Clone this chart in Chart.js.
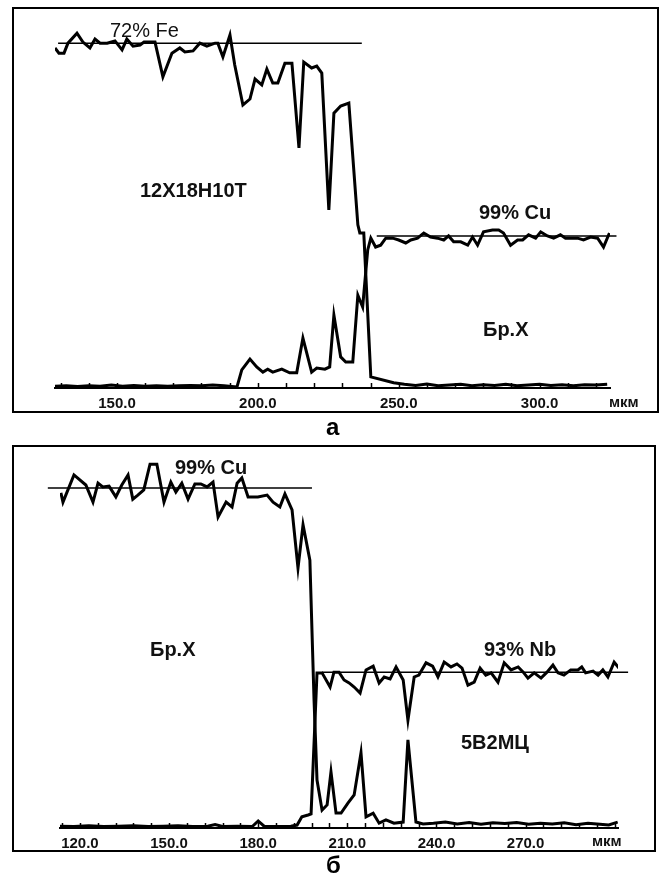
<!DOCTYPE html>
<html>
<head>
<meta charset="utf-8">
<script src="https://cdn.jsdelivr.net/npm/chart.js@4.4.1/dist/chart.umd.min.js"></script>
<style>
  body { margin:0; background:#fff; width:662px; height:879px; position:relative; overflow:hidden;
         font-family:"Liberation Sans", Arial, sans-serif; }
  .panel { position:absolute; border:2px solid #000; box-sizing:border-box; }
  .wrap { position:absolute; left:0; width:662px; }
  .lbl { position:absolute; font-size:20px; font-weight:bold; line-height:20px; white-space:nowrap; color:#111; }
  .unit { position:absolute; font-size:15px; font-weight:bold; line-height:15px; color:#111; }
  .cap { position:absolute; font-size:24px; font-weight:bold; line-height:24px; color:#000; }
</style>
</head>
<body>

<div class="panel" style="left:12px;top:7px;width:647px;height:406px"></div>
<div class="panel" style="left:12px;top:445px;width:644px;height:407px"></div>

<div class="wrap" style="top:0;height:440px"><canvas id="chartA" width="662" height="440"></canvas></div>
<div class="wrap" style="top:440px;height:439px"><canvas id="chartB" width="662" height="439"></canvas></div>

<!-- panel а labels -->
<div class="lbl" style="left:110px;top:20px;font-weight:normal">72% Fe</div>
<div class="lbl" style="left:140px;top:180px">12Х18Н10Т</div>
<div class="lbl" style="left:479px;top:202px">99% Cu</div>
<div class="lbl" style="left:483px;top:319px">Бр.Х</div>
<div class="unit" style="left:609px;top:394px">мкм</div>
<div class="cap" style="left:326px;top:415px">а</div>

<!-- panel б labels -->
<div class="lbl" style="left:175px;top:457px">99% Cu</div>
<div class="lbl" style="left:150px;top:639px">Бр.Х</div>
<div class="lbl" style="left:484px;top:639px">93% Nb</div>
<div class="lbl" style="left:461px;top:732px">5В2МЦ</div>
<div class="unit" style="left:592px;top:833px">мкм</div>
<div class="cap" style="left:326px;top:853px">б</div>

<script>
// ---- panel а : 12Х18Н10Т / Бр.Х ----
const xTicksA = [150, 200, 250, 300];

const feX = [128.0, 129.4, 131.2, 132.6, 135.8, 137.9, 140.4, 142.2, 144.0, 146.5, 149.3, 151.8, 153.5, 155.7,
             158.2, 159.6, 163.5, 166.3, 169.5, 172.3, 174.1, 177.0, 179.4, 181.9, 184.8, 185.8, 187.6, 190.1,
             191.8, 194.7, 197.2, 199.0, 201.4, 203.2, 205.3, 207.1, 209.6, 212.1, 214.6, 216.3, 219.1, 220.9,
             222.7, 225.2, 227.0, 229.4, 232.3, 235.5, 236.2, 237.6, 240.1, 248.2, 252, 256, 260, 264, 268,
             272, 276, 280, 284, 288, 292, 296, 300, 304, 308, 312, 316, 320, 324];
const feY = [91.9, 90.5, 90.5, 93.2, 95.9, 93.5, 91.9, 94.3, 93.2, 93.2, 93.8, 91.4, 94.3, 92.4,
             92.7, 93.5, 93.5, 84.1, 90.5, 91.9, 90.8, 91.1, 93.2, 92.4, 93.2, 93.2, 89.5, 95.4,
             87.3, 76.5, 78.1, 83.5, 81.9, 86.2, 82.4, 82.4, 87.8, 87.8, 64.9, 88.1, 86.5, 87.0,
             85.1, 48.1, 74.3, 76.2, 77.0, 44.1, 41.9, 41.9, 3.0, 1.4, 1.0, 0.7, 1.1, 0.6, 0.8,
             1.0, 0.6, 0.9, 0.7, 1.0, 0.6, 0.8, 1.0, 0.7, 0.9, 0.6, 0.9, 0.8, 1.0];

const cuAX = [128, 132, 136, 140, 144, 148, 152, 156, 160, 164, 168, 172, 176, 180, 184, 188, 192.6,
              194.3, 197.2, 199.6, 201.8, 203.5, 205.3, 208.5, 211.3, 213.8, 216.0, 219.1, 220.9, 223.8,
              225.5, 227.0, 229.4, 231.2, 233.7, 235.5, 237.2, 239.0,
              240.1, 241.8, 243.6, 245.4, 247.9, 250.0, 252.5, 254.3, 256.7, 258.9, 261.3, 263.8, 266.0,
              267.7, 269.5, 272.0, 274.5, 276.2, 278.0, 280.1, 283.3, 285.5, 287.2, 289.7, 292.2, 294.0,
              296.1, 298.6, 300.4, 302.8, 305.0, 307.4, 309.2, 311.0, 313.5, 315.6, 318.1, 320.6, 322.7, 324.8];
const cuAY = [0.5, 0.6, 0.4, 0.6, 0.5, 0.8, 0.5, 0.7, 0.5, 0.6, 0.5, 0.6, 0.7, 0.6, 0.8, 0.6, 0.3,
              4.9, 7.8, 5.7, 4.3, 5.1, 4.3, 5.1, 4.1, 4.1, 13.5, 4.3, 5.4, 5.1,
              5.7, 19.7, 8.4, 7.0, 7.0, 25.1, 21.9, 37.3,
              40.5, 38.1, 38.6, 40.5, 40.5, 40.0, 39.2, 40.0, 40.5, 41.9, 40.8, 40.5, 40.0,
              41.1, 39.5, 39.5, 38.6, 40.8, 38.6, 42.2, 42.7, 42.7, 41.9, 38.6, 40.0, 40.0,
              41.4, 40.5, 42.2, 41.1, 40.5, 41.4, 40.5, 40.5, 40.5, 40.0, 40.8, 40.5, 38.1, 41.9];

// level lines: [x start, x end], level
const feLevelX = [129.1, 236.9], feLevel = 93.2;
const cuLevelAX = [242.2, 327.3], cuLevelA = 41.1;

// ---- panel б : Бр.Х / 5В2МЦ ----
const xTicksB = [120, 150, 180, 210, 240, 270];

const cuBX = [113.6, 114.3, 118.0, 122.0, 124.4, 126.1, 127.7, 129.8, 132.1, 134.1, 136.2, 137.8, 139.5,
              141.5, 143.6, 145.9, 148.3, 150.6, 152.3, 154.3, 156.4, 158.7, 160.7, 162.8, 164.8, 166.5,
              169.2, 171.2, 172.9, 174.5, 176.6, 179.9, 183.0, 185.0, 187.3, 189.0, 191.4, 193.4, 195.1,
              197.4, 198.8, 199.8, 201.5, 203.2, 204.5, 206.2, 207.9, 210.2, 212.3, 214.6, 216.3, 218.7,
              220.7, 223.0, 225.7, 228.8, 230.4, 233.1, 235.5, 239, 243, 247, 251, 255, 259, 263, 267,
              271, 275, 279, 283, 287, 291, 295, 298, 301];
const cuBY = [90.1, 87.6, 94.9, 92.2, 87.6, 92.7, 91.7, 91.9, 89.0, 92.2, 94.9, 88.4, 89.5,
              90.9, 97.8, 97.8, 87.6, 93.0, 90.3, 92.7, 88.4, 92.5, 92.5, 91.7, 93.0, 83.6,
              87.6, 86.3, 92.7, 94.1, 89.0, 89.0, 89.5, 87.6, 86.3, 89.8, 85.5, 69.9, 81.5,
              72.0, 34.4, 12.9, 4.8, 6.2, 15.1, 4.0, 4.0, 6.7, 8.9, 20.2, 3.0, 4.0,
              1.3, 2.2, 1.3, 1.6, 23.7, 1.6, 1.1, 1.3, 1.6, 1.1, 1.5, 1.0, 1.4, 1.2, 1.5,
              1.0, 1.3, 1.1, 1.4, 0.9, 1.3, 1.0, 0.8, 1.6];

const nbX = [113.3, 118, 123, 128, 133, 138, 143, 148, 153, 158, 163, 165.5, 168, 173, 178, 180, 182, 187,
             191, 193.1, 194.7, 196.8, 197.8, 199.8, 201.5, 204.2, 205.5, 207.2, 208.9, 210.6, 212.3,
             214.3, 216.3, 218.7, 220.7, 222.4, 224.4, 226.4, 228.8, 230.4, 232.5, 234.1, 236.5, 238.7,
             240.5, 242.6, 244.9, 246.9, 248.6, 250.6, 252.7, 254.7, 256.6, 258.4, 260.7, 262.8, 265.1,
             267.5, 269.2, 270.8, 272.9, 275.2, 277.2, 279.2, 280.9, 282.9, 285.2, 287.6, 288.9, 290.2,
             292.7, 294.4, 296.0, 297.7, 299.8, 301.4];
const nbY = [0.5, 0.4, 0.6, 0.4, 0.5, 0.6, 0.4, 0.5, 0.6, 0.4, 0.5, 0.9, 0.4, 0.5, 0.4, 1.9, 0.5, 0.4,
             0.5, 0.8, 3.0, 3.5, 3.8, 41.7, 41.7, 37.9, 41.9, 41.9, 39.8, 39.0, 37.9,
             36.3, 42.5, 43.5, 39.0, 40.6, 40.1, 43.3, 39.8, 29.0, 40.6, 41.1, 44.4, 43.5,
             40.6, 44.6, 43.3, 44.1, 43.0, 38.4, 39.2, 43.0, 41.1, 41.7, 39.2, 44.4, 42.5,
             43.3, 41.9, 40.3, 41.7, 40.3, 41.9, 43.8, 41.7, 41.1, 42.5, 42.5, 43.3, 41.7,
             42.2, 41.1, 42.5, 40.6, 44.6, 43.0];

const cuLevelBX = [109.2, 198.1], cuLevelB = 91.4;
const nbLevelX = [201.5, 304.5], nbLevel = 41.9;

// short upward ticks along the axis
const minorTicks = {
  id: 'minorTicks',
  afterDatasetsDraw(chart, args, opts) {
    const xs = chart.scales.x, y0 = chart.chartArea.bottom, ctx = chart.ctx;
    ctx.save();
    ctx.strokeStyle = '#000';
    ctx.lineWidth = 1.5;
    for (let v = Math.ceil(xs.min / opts.step) * opts.step; v <= xs.max; v += opts.step) {
      const px = Math.round(xs.getPixelForValue(v)) + 0.5;
      ctx.beginPath();
      ctx.moveTo(px, y0);
      ctx.lineTo(px, y0 - 5);
      ctx.stroke();
    }
    ctx.restore();
  }
};

function pts(xs, ys) {
  return xs.map((x, i) => ({ x: x, y: ys[i] }));
}

function levelLine(xs, level) {
  return {
    data: xs.map(x => ({ x: x, y: level })),
    borderColor: '#000',
    borderWidth: 1.5,
    pointRadius: 0,
    clip: false
  };
}

function trace(xs, ys) {
  return {
    data: pts(xs, ys),
    borderColor: '#000',
    borderWidth: 3,
    pointRadius: 0,
    tension: 0,
    borderJoinStyle: 'miter'
  };
}

function makeChart(id, series, xMin, xMax, ticks, step, padding) {
  return new Chart(document.getElementById(id), {
    type: 'line',
    data: { datasets: series },
    options: {
      responsive: false,
      animation: false,
      layout: { padding: padding },
      plugins: {
        legend: { display: false },
        tooltip: { enabled: false },
        minorTicks: { step: step }
      },
      scales: {
        x: {
          type: 'linear',
          min: xMin,
          max: xMax,
          afterBuildTicks: s => { s.ticks = ticks.map(v => ({ value: v })); },
          afterFit: s => { s.height = 30; },
          grid: { display: false, drawTicks: false },
          border: { display: true, color: '#000', width: 2 },
          ticks: {
            autoSkip: false,
            maxRotation: 0,
            padding: 7,
            color: '#111',
            font: { family: '"Liberation Sans", Arial, sans-serif', size: 15, weight: 'bold' },
            callback: v => Number(v).toFixed(1)
          }
        },
        y: { display: false, min: 0, max: 100 }
      }
    },
    plugins: [minorTicks]
  });
}

makeChart('chartA', [
  trace(feX, feY),
  trace(cuAX, cuAY),
  levelLine(feLevelX, feLevel),
  levelLine(cuLevelAX, cuLevelA)
], 128, 325, xTicksA, 10, { left: 55, right: 52, top: 18, bottom: 22 });

makeChart('chartB', [
  trace(cuBX, cuBY),
  trace(nbX, nbY),
  levelLine(cuLevelBX, cuLevelB),
  levelLine(nbLevelX, nbLevel)
], 113.3, 301.1, xTicksB, 6, { left: 60, right: 44, top: 16, bottom: 21 });
</script>
</body>
</html>
